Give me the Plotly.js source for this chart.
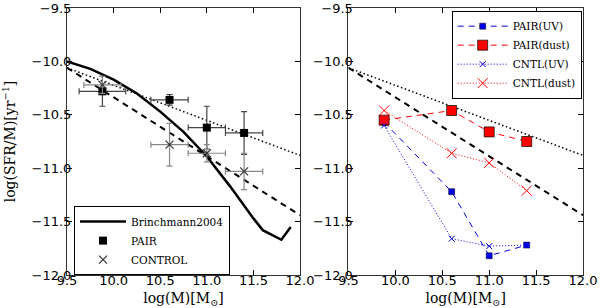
<!DOCTYPE html>
<html>
<head>
<meta charset="utf-8">
<script src="https://cdn.plot.ly/plotly-3.0.1.min.js"></script>
<style>html,body{margin:0;padding:0;background:#fff;}#chart{width:600px;height:308px;}</style>
</head>
<body>
<div id="chart"></div>
<script>
// ---- data ----
var massBins = [9.88, 10.6, 11.0, 11.4];

var pairSSFR = [-10.28, -10.36, -10.62, -10.67];
var pairMassErr = [0.25, 0.2, 0.2, 0.2];
var pairSSFRErr = [0.14, 0.05, 0.2, 0.2];

var controlSSFR = [-10.22, -10.78, -10.86, -11.03];
var controlMassErr = [0.2, 0.2, 0.2, 0.2];
var controlSSFRErr = [0.08, 0.2, 0.08, 0.17];

var brinchMass = [9.5, 9.75, 10.0, 10.25, 10.5, 10.75, 11.0, 11.25, 11.5, 11.6, 11.8, 11.9];
var brinchSSFR = [-10.0, -10.07, -10.17, -10.30, -10.47, -10.66, -10.89, -11.17, -11.47, -11.58, -11.67, -11.55];

var relMass = [9.5, 12.0];
var dottedRel = [-10.06, -10.88];
var dashedRel = [-10.06, -11.44];

var pairUV = [-10.57, -11.22, -11.82, -11.72];
var pairDust = [-10.55, -10.46, -10.66, -10.75];
var cntlUV = [-10.60, -11.66, -11.73, -11.72];
var cntlDust = [-10.46, -10.86, -10.95, -11.21];

var xTicks = [9.5, 10.0, 10.5, 11.0, 11.5, 12.0];
var yTicks = [-9.5, -10.0, -10.5, -11.0, -11.5, -12.0];

// ---- traces ----
var serif = 'DejaVu Serif, serif';
var sans = 'DejaVu Sans, sans-serif';

var traces = [
  {x: relMass, y: dottedRel, xaxis: 'x', yaxis: 'y', mode: 'lines', showlegend: false,
   line: {color: '#000', width: 1.5, dash: '1.5px,2.5px'}, hoverinfo: 'skip'},
  {x: relMass, y: dashedRel, xaxis: 'x', yaxis: 'y', mode: 'lines', showlegend: false,
   line: {color: '#000', width: 2, dash: '6px,5px'}, hoverinfo: 'skip'},
  {x: brinchMass, y: brinchSSFR, xaxis: 'x', yaxis: 'y', mode: 'lines', name: 'Brinchmann2004',
   legend: 'legend', line: {color: '#000', width: 2.5}},
  {x: massBins, y: pairSSFR, xaxis: 'x', yaxis: 'y', mode: 'markers', name: 'PAIR', legend: 'legend',
   marker: {symbol: 'square', size: 8, color: '#000'},
   error_x: {type: 'data', array: pairMassErr, color: '#444', thickness: 1.2, width: 3},
   error_y: {type: 'data', array: pairSSFRErr, color: '#444', thickness: 1.2, width: 3}},
  {x: massBins, y: controlSSFR, xaxis: 'x', yaxis: 'y', mode: 'markers', name: 'CONTROL', legend: 'legend',
   marker: {symbol: 'x-thin-open', size: 8, color: '#333', line: {color: '#333', width: 1.2}},
   error_x: {type: 'data', array: controlMassErr, color: '#888', thickness: 1.2, width: 3},
   error_y: {type: 'data', array: controlSSFRErr, color: '#888', thickness: 1.2, width: 3}},

  {x: relMass, y: dottedRel, xaxis: 'x2', yaxis: 'y2', mode: 'lines', showlegend: false,
   line: {color: '#000', width: 1.5, dash: '1.5px,2.5px'}, hoverinfo: 'skip'},
  {x: relMass, y: dashedRel, xaxis: 'x2', yaxis: 'y2', mode: 'lines', showlegend: false,
   line: {color: '#000', width: 2, dash: '6px,5px'}, hoverinfo: 'skip'},
  {x: massBins, y: pairUV, xaxis: 'x2', yaxis: 'y2', mode: 'lines+markers', name: 'PAIR(UV)', legend: 'legend2',
   line: {color: '#0000dd', width: 1, dash: '6px,5px'},
   marker: {symbol: 'square', size: 6, color: '#0000ee', line: {color: '#000', width: 0.5}}},
  {x: massBins, y: pairDust, xaxis: 'x2', yaxis: 'y2', mode: 'lines+markers', name: 'PAIR(dust)', legend: 'legend2',
   line: {color: '#ff0000', width: 1, dash: '6px,5px'},
   marker: {symbol: 'square', size: 10, color: '#ff0000', line: {color: '#000', width: 0.7}}},
  {x: massBins, y: cntlUV, xaxis: 'x2', yaxis: 'y2', mode: 'lines+markers', name: 'CNTL(UV)', legend: 'legend2',
   line: {color: '#0000dd', width: 1, dash: '1px,2px'},
   marker: {symbol: 'x-thin-open', size: 6, color: '#0000dd', line: {color: '#0000dd', width: 1}}},
  {x: massBins, y: cntlDust, xaxis: 'x2', yaxis: 'y2', mode: 'lines+markers', name: 'CNTL(dust)', legend: 'legend2',
   line: {color: '#ff0000', width: 1, dash: '1px,2px'},
   marker: {symbol: 'x-thin-open', size: 10, color: '#ff0000', line: {color: '#ff0000', width: 1}}}
];

function xax(domain, anchor) {
  return {domain: domain, anchor: anchor, range: [9.5, 12.0], tickvals: xTicks, ticktext: xTicks.map(function(v){return v.toFixed(1);}),
    ticks: 'inside', ticklen: 5, tickcolor: '#000', showline: true, linecolor: '#333', linewidth: 1, mirror: 'ticks',
    showgrid: false, zeroline: false, tickfont: {family: sans, size: 13, color: '#000'}, ticklabelstandoff: -7,
    title: {text: 'log(M)[M<sub>\u2299</sub>]', font: {family: serif, size: 14, color: '#000'}, standoff: 9}};
}
function yax(anchor, withTitle) {
  var a = {anchor: anchor, domain: [0, 1], range: [-12.0, -9.5], tickvals: yTicks,
    ticktext: yTicks.map(function(v){return '\u2212' + Math.abs(v).toFixed(1);}),
    ticks: 'inside', ticklen: 5, tickcolor: '#000', showline: true, linecolor: '#333', linewidth: 1, mirror: 'ticks',
    showgrid: false, zeroline: false, tickfont: {family: sans, size: 13, color: '#000'}, ticklabelstandoff: -8};
  if (withTitle) a.title = {text: 'log(SFR/M)[yr<sup>\u22121</sup>]', font: {family: serif, size: 14, color: '#000'}, standoff: 12};
  return a;
}

var layout = {
  width: 600, height: 308,
  margin: {l: 67, r: 17, t: 8, b: 33},
  paper_bgcolor: '#fff', plot_bgcolor: '#fff',
  xaxis: xax([0, 0.4516], 'y'),
  yaxis: yax('x', true),
  xaxis2: xax([0.5455, 1], 'y2'),
  yaxis2: yax('x2', false),
  legend: {x: 0.0136, y: 0.258, xanchor: 'left', yanchor: 'top', bgcolor: '#fff', bordercolor: '#000', borderwidth: 1,
    font: {family: serif, size: 10.5, color: '#000'}, tracegroupgap: 0, itemwidth: 46},
  legend2: {x: 0.7455, y: 0.99, xanchor: 'left', yanchor: 'top', bgcolor: '#fff', bordercolor: '#000', borderwidth: 1,
    font: {family: serif, size: 10.5, color: '#000'}, tracegroupgap: 0, itemwidth: 50},
  showlegend: true
};

Plotly.newPlot('chart', traces, layout, {displayModeBar: false, staticPlot: true});
</script>
</body>
</html>
